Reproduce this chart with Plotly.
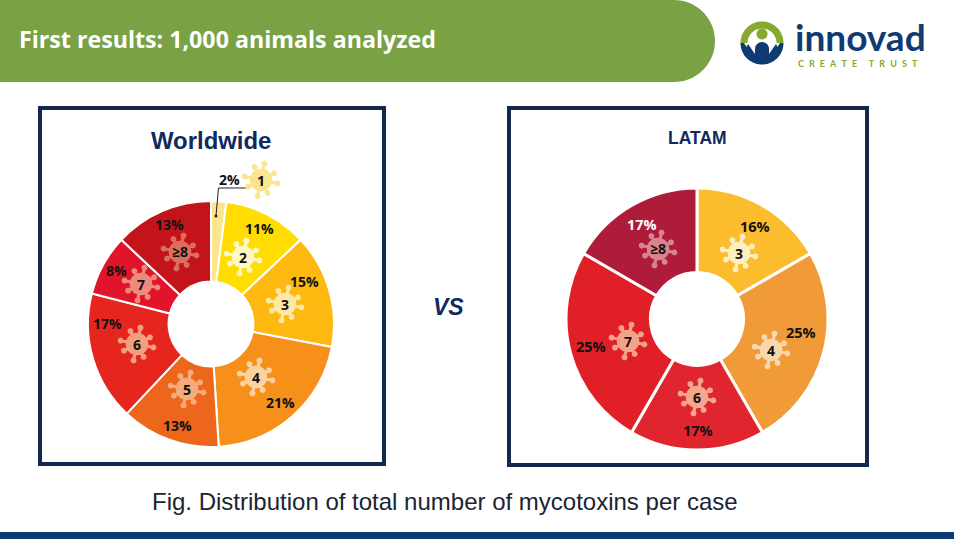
import math
import plotly.graph_objects as go

W, H = 954, 539

# ---- data ----
world_categories = ["1", "2", "3", "4", "5", "6", "7", "≥8"]
world_values = [2, 11, 15, 21, 13, 17, 8, 13]
world_labels = ["2%", "11%", "15%", "21%", "13%", "17%", "8%", "13%"]
world_colors = ["#FBE68F", "#FFDD00", "#FDB90F", "#F6901A", "#EC661B", "#E6261E", "#E2142B", "#C3141B"]

latam_categories = ["3", "4", "6", "7", "≥8"]
latam_values = [16.67, 25, 16.67, 25, 16.67]
latam_labels = ["16%", "25%", "17%", "25%", "17%"]
latam_colors = ["#FBBC2E", "#F09A38", "#E0252F", "#E01F26", "#AE1C3A"]

# ---- layout positions (pixels) ----
world_label_xy = [(229, 179), (259, 229), (304, 281), (280, 402), (177, 425), (107, 323), (116, 270), (169, 224)]
world_icon_xy = [(261, 180), (243, 257), (285, 304), (256, 377), (187, 389), (137, 344), (141, 284), (180, 252)]
world_icon_col = ["#FBE68F", "#FFF7C4", "#FFE8A6", "#FBD3A0", "#F5AC7A", "#F29F7E", "#EE8A7C", "#DD6D5D"]
latam_label_xy = [(755, 226), (801, 332), (698, 430), (591, 346), (642, 224)]
latam_label_col = ["#111111", "#111111", "#111111", "#111111", "#FFFFFF"]
latam_icon_xy = [(739, 253), (771, 350), (697, 397), (628, 341), (658, 249)]
latam_icon_col = ["#FEEFC0", "#F9D7AE", "#F4A68F", "#F2A28A", "#D9838F"]

NAVY = "#12284C"
TITLE = "#0F2A5E"
BLUE = "#0F3B73"
GREEN = "#7BA145"
LOGO_GREEN = "#86A92F"


def px(x):
    return x / W


def py(y):
    return 1 - y / H


def domain(cx, cy, r):
    return dict(x=[px(cx - r), px(cx + r)], y=[py(cy + r), py(cy - r)])


def P(points, close=True):
    s = "M" + " L".join(f"{px(x):.5f},{py(y):.5f}" for x, y in points)
    return s + (" Z" if close else "")


def arc(cx, cy, r, a0, a1, n=40):
    return [(cx + r * math.cos(math.radians(a0 + (a1 - a0) * i / n)),
             cy + r * math.sin(math.radians(a0 + (a1 - a0) * i / n))) for i in range(n + 1)]


def virus_path(cx, cy, scale=1.08):
    """Body + 8 spikes with knobs as one path (non-zero fill)."""
    parts = [P(arc(cx, cy, 10.5 * scale, 0, 360, 24))]
    for k in range(8):
        a = math.radians(k * 45 + 12 + (6 if k % 2 else 0))
        L = (15.5 if k % 2 == 0 else 13.5) * scale
        ca, sa = math.cos(a), math.sin(a)
        w = 1.5 * scale
        parts.append(P([(cx + sa * w, cy - ca * w), (cx + ca * L + sa * w, cy + sa * L - ca * w),
                        (cx + ca * L - sa * w, cy + sa * L + ca * w), (cx - sa * w, cy + ca * w)]))
        parts.append(P(arc(cx + ca * L, cy + sa * L, 2.8 * scale, 0, 360, 10)))
    return " ".join(parts)


shapes = []
annotations = []


def text(x, y, s, size, color="#111111", family="Open Sans", bold=True, italic=False, anchor="center"):
    t = f"<b>{s}</b>" if bold else s
    if italic:
        t = f"<i>{t}</i>"
    annotations.append(dict(x=px(x), y=py(y), xref="paper", yref="paper", text=t, showarrow=False,
                            xanchor=anchor, yanchor="middle", font=dict(size=size, color=color, family=family)))


def rect(x0, y0, x1, y1, fill=None, line=None, lw=0):
    shapes.append(dict(type="rect", xref="paper", yref="paper", x0=px(x0), x1=px(x1), y0=py(y0), y1=py(y1),
                       fillcolor=fill or "rgba(0,0,0,0)", line=dict(color=line or "rgba(0,0,0,0)", width=lw)))


def path(d, fill=None, line=None, lw=0):
    shapes.append(dict(type="path", xref="paper", yref="paper", path=d, layer="above", fillrule="nonzero",
                       fillcolor=fill or "rgba(0,0,0,0)", line=dict(color=line or "rgba(0,0,0,0)", width=lw)))


# header band
path(P([(0, 0)] + arc(674, 41, 41, -90, 90, 32) + [(0, 82)]), fill=GREEN)
text(17, 39, "First results: 1,000 animals analyzed", 23.2, "#FFFFFF", anchor="left")

# logo
path(P(arc(762, 43, 21.5, 180, 360) + arc(762, 43, 14.5, 360, 180)), fill=LOGO_GREEN)
path(P(arc(762, 34, 5.5, 0, 360, 20)), fill=LOGO_GREEN)
path(P(arc(762, 43, 21.5, 0, 180)), fill=BLUE)
path(P([(744, 43), (752, 55), (772, 55), (780, 43)]), fill="#FFFFFF")
path(P(arc(762, 49, 7, 180, 360, 16) + [(769, 62), (755, 62)]), fill=BLUE)
path(P([(748, 44), (755, 54), (755, 60), (745, 50)]), fill=BLUE)
path(P([(776, 44), (769, 54), (769, 60), (779, 50)]), fill=BLUE)
text(793, 36, "innovad", 37, BLUE, family="Lato", anchor="left")
sep = "\u2002\u200a"
text(796, 63, sep.join("CREATE") + "\u2003" + sep + sep.join("TRUST"), 9, LOGO_GREEN,
     family="Lato", anchor="left")

# frames
rect(40, 108, 384, 464, line=NAVY, lw=4)
rect(509, 108, 867, 465, line=NAVY, lw=4)

# titles
text(211, 140, "Worldwide", 23.9, TITLE, family="Liberation Sans")
text(697, 138, "LATAM", 17.5, TITLE, family="Liberation Sans")
text(448, 307, "VS", 23, TITLE, family="Liberation Sans", italic=True)
text(445, 501, "Fig. Distribution of total number of mycotoxins per case", 24, "#1A2433",
     family="Liberation Sans", bold=False)

# bottom band
rect(0, 532, 954, 539, fill=BLUE)

# callout line on first slice
path(P([(250, 188), (218.5, 188), (216, 216)], close=False), line="#222222", lw=1)
path(P(arc(216, 216, 1.5, 0, 360, 10)), fill="#222222")

# icons and labels
for cat, (x, y), col in zip(world_categories, world_icon_xy, world_icon_col):
    path(virus_path(x, y), fill=col)
    text(x, y, cat, 14)
for lab, (x, y) in zip(world_labels, world_label_xy):
    text(x, y, lab, 14)
for cat, (x, y), col in zip(latam_categories, latam_icon_xy, latam_icon_col):
    path(virus_path(x, y), fill=col)
    text(x, y, cat, 14)
for lab, (x, y), col in zip(latam_labels, latam_label_xy, latam_label_col):
    text(x, y, lab, 14.5, col)

fig = go.Figure()
fig.add_trace(go.Pie(labels=world_categories, values=world_values, domain=domain(211, 324, 123),
                     hole=0.345, sort=False, direction="clockwise", rotation=0, textinfo="none",
                     showlegend=False, marker=dict(colors=world_colors, line=dict(color="#FFFFFF", width=2))))
fig.add_trace(go.Pie(labels=latam_categories, values=latam_values, domain=domain(697, 319, 131),
                     hole=0.355, sort=False, direction="clockwise", rotation=0, textinfo="none",
                     showlegend=False, marker=dict(colors=latam_colors, line=dict(color="#FFFFFF", width=3))))
fig.update_layout(width=W, height=H, margin=dict(l=0, r=0, t=0, b=0), paper_bgcolor="#FFFFFF",
                  shapes=shapes, annotations=annotations, showlegend=False)
fig.write_html("out.html", config={"displayModeBar": False},
               post_script="document.body.style.margin='0';document.documentElement.style.overflow='hidden';")
